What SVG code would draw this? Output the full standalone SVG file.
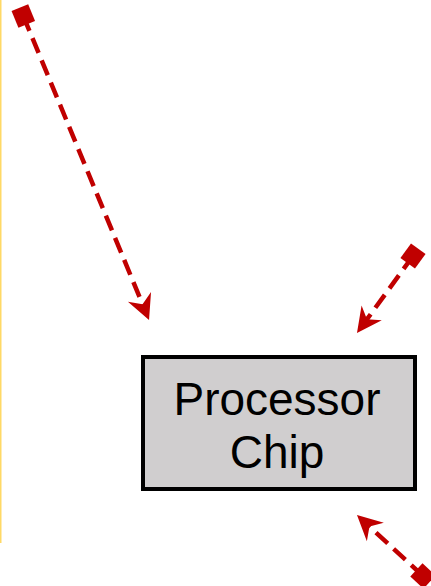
<svg xmlns="http://www.w3.org/2000/svg" width="431" height="586" viewBox="0 0 431 586">
<style>
.conn{fill:none;stroke:#c00000;stroke-width:4.5;stroke-dasharray:16 8;marker-start:url(#sq);marker-end:url(#ah)}
.box{fill:#d0cecf;stroke:#000;stroke-width:4}
.lbl{font-family:"Liberation Sans",Arial,sans-serif;font-size:46px;fill:#000;text-anchor:middle}
</style>
<defs>
<marker id="ah" markerUnits="userSpaceOnUse" orient="auto" viewBox="-12 -14 30 28" refX="0" refY="0" markerWidth="30" markerHeight="28">
<path d="M15,0 L-10,-12.5 L-2,0 L-10,12.5 Z" fill="#c00000"/>
</marker>
<marker id="sq" markerUnits="userSpaceOnUse" orient="auto" viewBox="-11 -11 22 22" refX="0" refY="0" markerWidth="22" markerHeight="22">
<rect x="-9" y="-9" width="18" height="18" fill="#c00000"/>
</marker>
</defs>
<line x1="0.75" y1="0" x2="0.75" y2="543" stroke="#ffd966" stroke-width="1.5"/>
<g id="connectors">
<path class="conn" d="M23.3,16 L143.3,306.1"/>
<path class="conn" d="M413,256 L365.8,320.9"/>
<path class="conn" d="M423,576 L368,525.2"/>
</g>
<g id="processor">
<rect class="box" x="143" y="357" width="272" height="132"/>
<text class="lbl" x="277" y="415">Processor</text>
<text class="lbl" x="277" y="468">Chip</text>
</g>
</svg>
